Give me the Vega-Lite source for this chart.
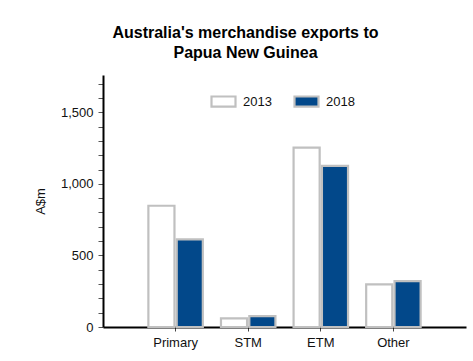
{
  "$schema": "https://vega.github.io/schema/vega-lite/v6.json",
  "autosize": {"type": "none"},
  "width": 363,
  "height": 252,
  "padding": {"left": 103, "top": 75, "right": 7, "bottom": 34},
  "background": "white",
  "title": {
    "text": ["Australia's merchandise exports to", "Papua New Guinea"],
    "font": "Liberation Sans",
    "fontSize": 16,
    "fontWeight": "bold",
    "color": "#000000",
    "anchor": "middle",
    "dx": -39,
    "offset": 14,
    "lineHeight": 20
  },
  "data": {
    "values": [
      {"Category": "Primary", "Year": "2013", "Value": 847},
      {"Category": "Primary", "Year": "2018", "Value": 612},
      {"Category": "STM", "Year": "2013", "Value": 60},
      {"Category": "STM", "Year": "2018", "Value": 76},
      {"Category": "ETM", "Year": "2013", "Value": 1253},
      {"Category": "ETM", "Year": "2018", "Value": 1125},
      {"Category": "Other", "Year": "2013", "Value": 298},
      {"Category": "Other", "Year": "2018", "Value": 320}
    ]
  },
  "mark": {"type": "bar", "stroke": "#c0c0c0", "strokeWidth": 2.2},
  "encoding": {
    "x": {
      "field": "Category",
      "type": "nominal",
      "sort": ["Primary", "STM", "ETM", "Other"],
      "scale": {"paddingInner": 0.25, "paddingOuter": 0.625},
      "axis": {
        "title": null,
        "labelAngle": 0,
        "bandPosition": 0.5,
        "domainColor": "#000000",
        "domainWidth": 2,
        "tickColor": "#444444",
        "tickSize": 4,
        "tickWidth": 1,
        "labelFont": "Liberation Sans",
        "labelFontSize": 13,
        "labelColor": "#111111",
        "labelPadding": 5
      }
    },
    "xOffset": {
      "field": "Year",
      "type": "nominal",
      "scale": {"paddingInner": 0.08, "paddingOuter": 0}
    },
    "y": {
      "field": "Value",
      "type": "quantitative",
      "scale": {"domain": [0, 1760], "nice": false},
      "axis": {
        "title": "A$m",
        "titleFont": "Liberation Sans",
        "titleFontSize": 13,
        "titleFontWeight": "normal",
        "titleColor": "#111111",
        "titlePadding": 13,
        "values": [0, 100, 200, 300, 400, 500, 600, 700, 800, 900, 1000, 1100, 1200, 1300, 1400, 1500, 1600, 1700],
        "labelExpr": "datum.value % 500 === 0 ? format(datum.value, ',') : ''",
        "grid": false,
        "domainColor": "#000000",
        "domainWidth": 2,
        "tickColor": "#555555",
        "tickSize": 5,
        "tickWidth": 1,
        "labelFont": "Liberation Sans",
        "labelFontSize": 13,
        "labelColor": "#111111",
        "labelPadding": 5
      }
    },
    "fill": {
      "field": "Year",
      "type": "nominal",
      "scale": {"domain": ["2013", "2018"], "range": ["#ffffff", "#02488a"]},
      "legend": {
        "title": null,
        "orient": "none",
        "direction": "horizontal",
        "legendX": 107,
        "legendY": 13,
        "padding": 0,
        "symbolType": "M-1,-0.42L1,-0.42L1,0.42L-1,0.42Z",
        "symbolSize": 576,
        "symbolStrokeColor": "#c0c0c0",
        "symbolStrokeWidth": 2.2,
        "labelFont": "Liberation Sans",
        "labelFontSize": 13,
        "labelColor": "#111111",
        "labelOffset": 6,
        "columnPadding": 18
      }
    }
  },
  "config": {"view": {"stroke": null}}
}
